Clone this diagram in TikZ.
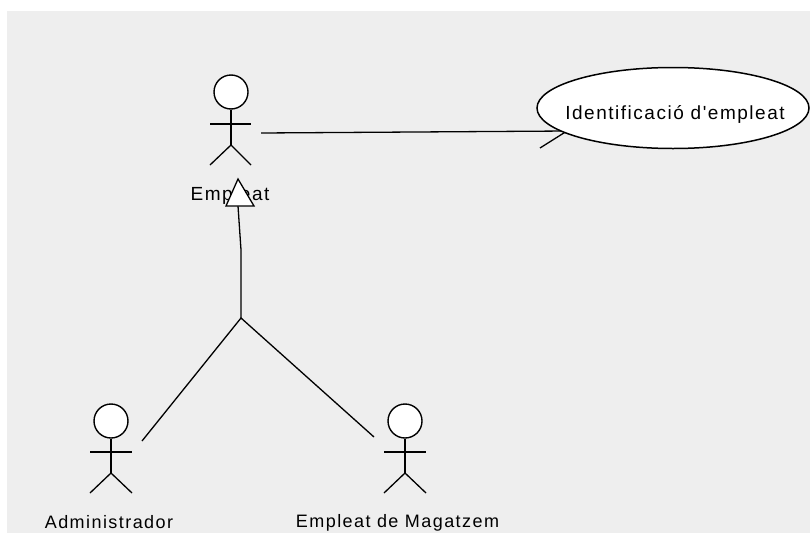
\documentclass[tikz,border=0pt]{standalone}
\usepackage{fontspec}
\setmainfont[LetterSpace=8,Ligatures=TeXOff]{Liberation Sans}
\usetikzlibrary{shapes.geometric}
\definecolor{panel}{HTML}{EEEEEE}
\tikzset{
  line/.style={draw=black,line width=1.3pt},
  actorhead/.style={circle,draw=black,line width=1.4pt,fill=white,minimum size=34pt,inner sep=0pt},
  actorlabel/.style={inner sep=0pt,font=\fontsize{18}{20}\selectfont,text=black},
  usecase/.style={ellipse,draw=black,line width=1.5pt,fill=white,minimum width=272pt,minimum height=81pt,inner sep=0pt},
  uclabel/.style={inner sep=0pt,font=\fontsize{19}{22}\selectfont,text=black},
  gentip/.style={draw=black,line width=1.3pt,fill=white,line join=miter}
}
\newcommand{\actorbody}[2]{%
  \node[actorhead] (#2) at (#1,-421) {};
  \draw[line] (#2.south) -- (#1,-473);
  \draw[line] (#1-21,-452) -- (#1+21,-452);
  \draw[line] (#1-21,-493) -- (#1,-473) -- (#1+21,-493);
}
\begin{document}
\begin{tikzpicture}[x=1pt,y=1pt]
\useasboundingbox (0,0) rectangle (810,-533);
\fill[panel] (7,-11) rectangle (810,-533);
% Empleat actor
\node[actorhead] (emp) at (231,-92) {};
\draw[line] (emp.south) -- (231,-145);
\draw[line] (210,-124) -- (251,-124);
\draw[line] (210,-165) -- (231,-145) -- (251,-165);
\node[actorlabel,font=\fontsize{19}{20}\selectfont] (emplabel) at (230,-196) {Empleat};
% other actors
\actorbody{111}{adm}
\actorbody{405}{mag}
\node[actorlabel] (admlabel) at (109,-522) {Administrador};
\node[actorlabel] (maglabel) at (397.5,-523) {Empleat de Magatzem};
% association
\coordinate (empout) at (261,-133);
\coordinate (ucin) at (567,-131);
\coordinate (barblow) at (540,-148);
\coordinate (barbup) at (540,-114);
\draw[line] (empout) -- (415,-132) -- (ucin);
\draw[line] (barblow) -- (ucin) -- (barbup);
\node[usecase] (uc) at (673,-108) {};
\node[uclabel] (uclab) at (675,-114) {Identificació d'empleat};
% generalization
\coordinate (junction) at (241,-318);
\coordinate (admend) at (142,-441);
\coordinate (magend) at (374,-437);
\coordinate (tipbase) at (238,-206);
\draw[line] (admend) -- (junction) -- (magend);
\draw[line] (junction) -- (241,-250) -- (tipbase);
\draw[gentip] (238,-179) -- (254,-206) -- (226,-206) -- cycle;
\end{tikzpicture}
\end{document}
